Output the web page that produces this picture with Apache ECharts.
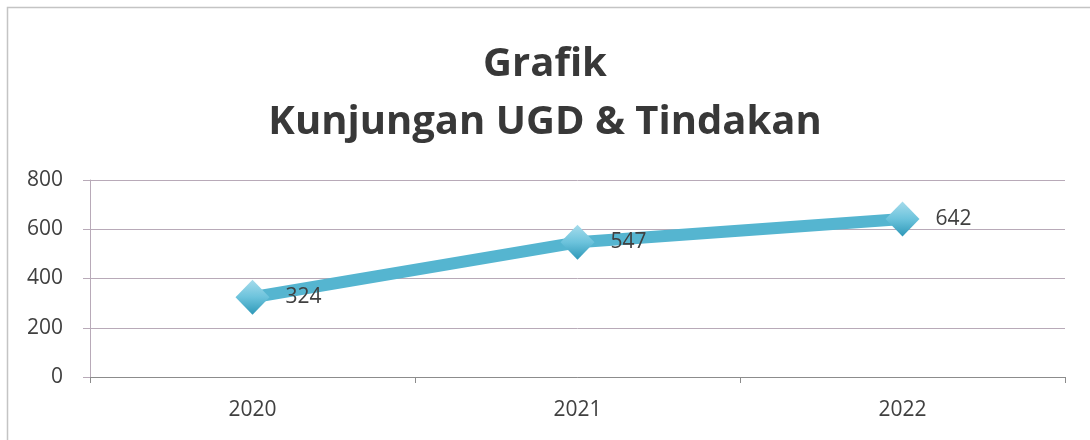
<!DOCTYPE html>
<html><head><meta charset="utf-8">
<script src="https://cdn.jsdelivr.net/npm/echarts@6/dist/echarts.min.js"></script>
<style>html,body{margin:0;padding:0;background:#fff}#c{width:1090px;height:440px}</style>
</head><body><div id="c"></div>
<script>
const titleLines = ['Grafik', 'Kunjungan UGD & Tindakan'];
const categories = ['2020', '2021', '2022'];
const values = [324, 547, 642];
const yTicks = [0, 200, 400, 600, 800];

const chart = echarts.init(document.getElementById('c'), null, {renderer: 'canvas'});
chart.setOption({
  backgroundColor: '#fff',
  animation: false,
  graphic: [{
    type: 'rect', shape: {x: 7.5, y: 7.5, width: 1100, height: 450},
    style: {fill: 'none', stroke: '#c4c4c4', lineWidth: 1.5}, silent: true
  }],
  title: {
    text: titleLines.join('\n'), left: 'center', top: 31,
    textStyle: {fontFamily: 'Open Sans', fontWeight: 'bold', fontSize: 40, color: '#383838', lineHeight: 58}
  },
  grid: {left: 90, right: 25, top: 180, bottom: 63},
  xAxis: {
    type: 'category', data: categories, boundaryGap: true,
    axisLine: {lineStyle: {color: '#8c8c8c', width: 1}},
    axisTick: {show: true, length: 6, alignWithLabel: false, lineStyle: {color: '#8c8c8c'}},
    axisLabel: {fontFamily: 'Open Sans', fontSize: 21, color: '#404040', margin: 23}
  },
  yAxis: {
    type: 'value', min: yTicks[0], max: yTicks[yTicks.length - 1], interval: 200,
    axisLine: {show: true, lineStyle: {color: '#b8aab8', width: 1}},
    axisTick: {show: true, length: 7, lineStyle: {color: '#b8aab8'}},
    axisLabel: {fontFamily: 'Open Sans', fontSize: 21, color: '#404040', margin: 27},
    splitLine: {lineStyle: {color: '#b8aab8', width: 1}}
  },
  series: [{
    type: 'line', data: values,
    lineStyle: {color: '#55b5d0', width: 12},
    symbol: 'diamond', symbolSize: [34, 35],
    itemStyle: {
      color: new echarts.graphic.LinearGradient(0, 0, 0, 1, [
        {offset: 0, color: '#a6dcec'}, {offset: 0.5, color: '#6cc3dc'}, {offset: 1, color: '#2e98b8'}
      ]),
      borderWidth: 0
    },
    label: {show: true, position: 'right', distance: 16, fontFamily: 'Open Sans', fontSize: 21, color: '#404040'}
  }]
});
</script></body></html>
